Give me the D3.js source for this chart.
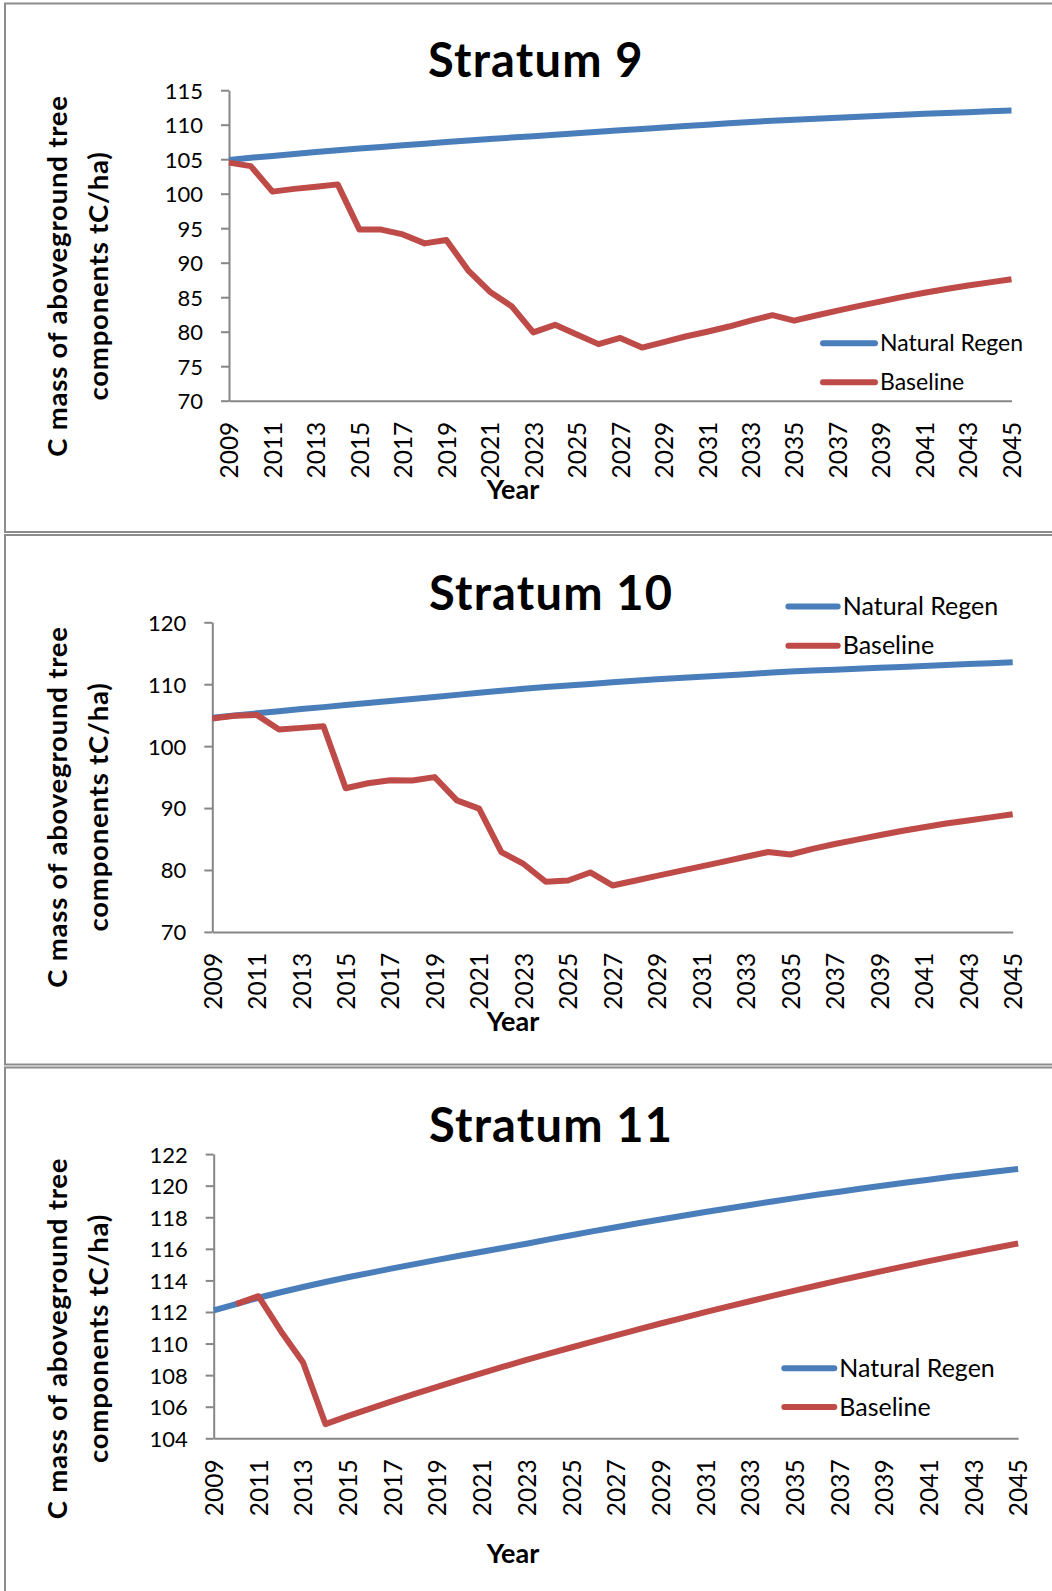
<!DOCTYPE html>
<html>
<head>
<meta charset="utf-8">
<script src="https://cdn.jsdelivr.net/npm/d3@7"></script>
<style>
  html, body { margin: 0; padding: 0; background: #ffffff; }
  svg { display: block; font-family: Lato, "Open Sans", sans-serif; }
</style>
</head>
<body>
<svg id="chart" width="1052" height="1591"></svg>
<script>
// Years on the category axis
const years = [2009, 2010, 2011, 2012, 2013, 2014, 2015, 2016, 2017, 2018,
  2019, 2020, 2021, 2022, 2023, 2024, 2025, 2026, 2027, 2028,
  2029, 2030, 2031, 2032, 2033, 2034, 2035, 2036, 2037, 2038,
  2039, 2040, 2041, 2042, 2043, 2044, 2045];

// Every other year is labelled
const yearLabels = [2009, 2011, 2013, 2015, 2017, 2019, 2021, 2023, 2025, 2027,
  2029, 2031, 2033, 2035, 2037, 2039, 2041, 2043, 2045];

const seriesNames = ["Natural Regen", "Baseline"];

// Stratum 9 (tC/ha)
const natRegen9 = [104.9, 105.2, 105.48, 105.76, 106.03, 106.29, 106.54, 106.78, 107.02, 107.25,
  107.48, 107.7, 107.92, 108.13, 108.34, 108.55, 108.76, 108.97, 109.18, 109.39,
  109.6, 109.8, 110.0, 110.2, 110.4, 110.56, 110.72, 110.87, 111.02, 111.16,
  111.3, 111.44, 111.57, 111.7, 111.82, 111.94, 112.05];
const baseline9 = [104.5, 104.0, 100.3, 100.7, 101.0, 101.35, 94.8, 94.8, 94.1, 92.8,
  93.3, 88.9, 85.8, 83.7, 79.9, 81.0, 79.6, 78.2, 79.1, 77.7,
  78.5, 79.3, 80.0, 80.75, 81.6, 82.4, 81.6, 82.35, 83.05, 83.75,
  84.4, 85.05, 85.65, 86.2, 86.7, 87.15, 87.6];
const yTicks9 = [70, 75, 80, 85, 90, 95, 100, 105, 110, 115];

// Stratum 10 (tC/ha)
const natRegen10 = [104.6, 104.95, 105.3, 105.65, 106.0, 106.3, 106.63, 106.96, 107.29, 107.62,
  107.95, 108.28, 108.61, 108.94, 109.27, 109.55, 109.8, 110.05, 110.3, 110.55,
  110.8, 111.0, 111.2, 111.4, 111.6, 111.85, 112.05, 112.2, 112.35, 112.5,
  112.65, 112.8, 112.95, 113.1, 113.25, 113.4, 113.55];
const baseline10 = [104.45, 104.9, 105.05, 102.7, 102.95, 103.2, 93.2, 94.0, 94.5, 94.45,
  95.0, 91.25, 89.9, 82.9, 80.97, 78.1, 78.3, 79.6, 77.5, 78.27,
  79.04, 79.81, 80.59, 81.36, 82.13, 82.9, 82.5, 83.4, 84.2, 84.9,
  85.6, 86.3, 86.9, 87.5, 88.0, 88.5, 89.0];
const yTicks10 = [70, 80, 90, 100, 110, 120];

// Stratum 11 (tC/ha); the baseline has no 2009 value
const natRegen11 = [112.1, 112.5, 112.9, 113.25, 113.58, 113.9, 114.2, 114.48, 114.76, 115.03,
  115.3, 115.56, 115.82, 116.07, 116.32, 116.6, 116.86, 117.12, 117.37, 117.62,
  117.86, 118.1, 118.33, 118.56, 118.78, 119.0, 119.21, 119.42, 119.62, 119.82,
  120.01, 120.2, 120.38, 120.56, 120.73, 120.9, 121.06];
const baseline11 = [null, 112.5, 113.0, 110.8, 108.8, 104.9, 105.4, 105.88, 106.35, 106.81,
  107.26, 107.7, 108.13, 108.55, 108.96, 109.36, 109.75, 110.14, 110.52, 110.9,
  111.27, 111.63, 111.99, 112.34, 112.68, 113.02, 113.35, 113.68, 114.0, 114.31,
  114.62, 114.92, 115.22, 115.51, 115.79, 116.07, 116.34];
const yTicks11 = [104, 106, 108, 110, 112, 114, 116, 118, 120, 122];

const titles = ["Stratum 9", "Stratum 10", "Stratum 11"];
const yTitleLines = ["C mass of aboveground tree", "components tC/ha)"];
const xTitle = "Year";

const colors = ["#4a7ebb", "#be4b48"];
const axisColor = "#868686";
const frameColor = "#8c8c8c";

const panels = [
  { title: titles[0], nat: natRegen9, base: baseline9, ticks: yTicks9,
    frame: [5, 3.5, 1062, 532],
    x0: 229, x1: 1011.5, yTop: 90.2, yBot: 400.7,
    titleX: 428, titleY: 77, yTitleCY: 276, yearY: 499,
    legend: { x0: 820, x1: 878, y0: 343.3, y1: 382.3, size: 23 } },
  { title: titles[1], nat: natRegen10, base: baseline10, ticks: yTicks10,
    frame: [5, 535, 1062, 1064.5],
    x0: 212.3, x1: 1012.7, yTop: 622.3, yBot: 931.9,
    titleX: 429, titleY: 609.5, yTitleCY: 807, yearY: 1031,
    legend: { x0: 785.4, x1: 840.7, y0: 606.4, y1: 645.7, size: 25 } },
  { title: titles[2], nat: natRegen11, base: baseline11, ticks: yTicks11,
    frame: [5, 1067.5, 1062, 1600],
    x0: 213.7, x1: 1018.1, yTop: 1154.1, yBot: 1438.3,
    titleX: 429, titleY: 1141.5, yTitleCY: 1338.5, yearY: 1563,
    legend: { x0: 781.3, x1: 837.3, y0: 1368.2, y1: 1407.1, size: 25 } }
];

const svg = d3.select("#chart");

panels.forEach(p => {
  const g = svg.append("g");

  // panel frame (runs past the right and bottom page edges)
  g.append("rect")
    .attr("x", p.frame[0]).attr("y", p.frame[1])
    .attr("width", p.frame[2] - p.frame[0]).attr("height", p.frame[3] - p.frame[1])
    .attr("fill", "#ffffff").attr("stroke", frameColor).attr("stroke-width", 2);

  const x = d3.scalePoint().domain(years).range([p.x0, p.x1]).padding(0);
  const y = d3.scaleLinear()
    .domain([p.ticks[0], p.ticks[p.ticks.length - 1]])
    .range([p.yBot, p.yTop]);

  // y axis
  const yAxis = g.append("g")
    .attr("transform", `translate(${p.x0},0)`)
    .call(d3.axisLeft(y).tickValues(p.ticks).tickSize(8).tickSizeOuter(0).tickPadding(18)
      .tickFormat(d3.format("d")));
  yAxis.select(".domain").attr("stroke", axisColor).attr("stroke-width", 2);
  yAxis.selectAll(".tick line").attr("stroke", axisColor).attr("stroke-width", 2);
  yAxis.selectAll(".tick text")
    .attr("fill", "#000").attr("dy", "0.36em")
    .style("font-family", "Lato").style("font-size", "22px");

  // x axis
  const xAxis = g.append("g")
    .attr("transform", `translate(0,${p.yBot})`)
    .call(d3.axisBottom(x).tickValues(yearLabels).tickSize(0).tickSizeOuter(0)
      .tickFormat(d3.format("d")));
  xAxis.select(".domain").attr("stroke", axisColor).attr("stroke-width", 2);
  xAxis.selectAll(".tick text")
    .attr("fill", "#000")
    .attr("transform", "rotate(-90)")
    .attr("x", -21).attr("y", 0).attr("dy", "0.36em")
    .attr("text-anchor", "end")
    .style("font-family", "Lato").style("font-size", "24.5px");

  // series lines
  const line = d3.line()
    .defined(d => d != null)
    .x((d, i) => x(years[i]))
    .y(d => y(d));

  [p.nat, p.base].forEach((vals, k) => {
    g.append("path")
      .datum(vals)
      .attr("d", line)
      .attr("fill", "none")
      .attr("stroke", colors[k])
      .attr("stroke-width", 6)
      .attr("stroke-linejoin", "round")
      .attr("stroke-linecap", "butt");
  });

  // chart title
  g.append("text")
    .attr("x", p.titleX).attr("y", p.titleY)
    .attr("fill", "#000")
    .style("font-family", "Lato").style("font-weight", "bold").style("font-size", "47px")
    .style("letter-spacing", "1.2px")
    .text(p.title);

  // y axis title, two lines
  [67, 107.5].forEach((bx, i) => {
    g.append("text")
      .attr("transform", `translate(${bx},${p.yTitleCY}) rotate(-90)`)
      .attr("text-anchor", "middle")
      .attr("fill", "#000")
      .style("font-family", "Lato").style("font-weight", "bold").style("font-size", "27.5px")
      .style("letter-spacing", "0.8px")
      .text(yTitleLines[i]);
  });

  // x axis title
  g.append("text")
    .attr("x", 513).attr("y", p.yearY)
    .attr("text-anchor", "middle")
    .attr("fill", "#000")
    .style("font-family", "Lato").style("font-weight", "bold").style("font-size", "27px")
    .text(xTitle);

  // legend
  const L = p.legend;
  [L.y0, L.y1].forEach((ly, k) => {
    g.append("line")
      .attr("x1", L.x0 + 3).attr("x2", L.x1 - 3)
      .attr("y1", ly).attr("y2", ly)
      .attr("stroke", colors[k]).attr("stroke-width", 6)
      .attr("stroke-linecap", "round");
    g.append("text")
      .attr("x", L.x1 + 2).attr("y", ly).attr("dy", "0.35em")
      .attr("fill", "#000")
      .style("font-family", "Lato").style("font-size", L.size + "px")
      .text(seriesNames[k]);
  });
});
</script>
</body>
</html>
